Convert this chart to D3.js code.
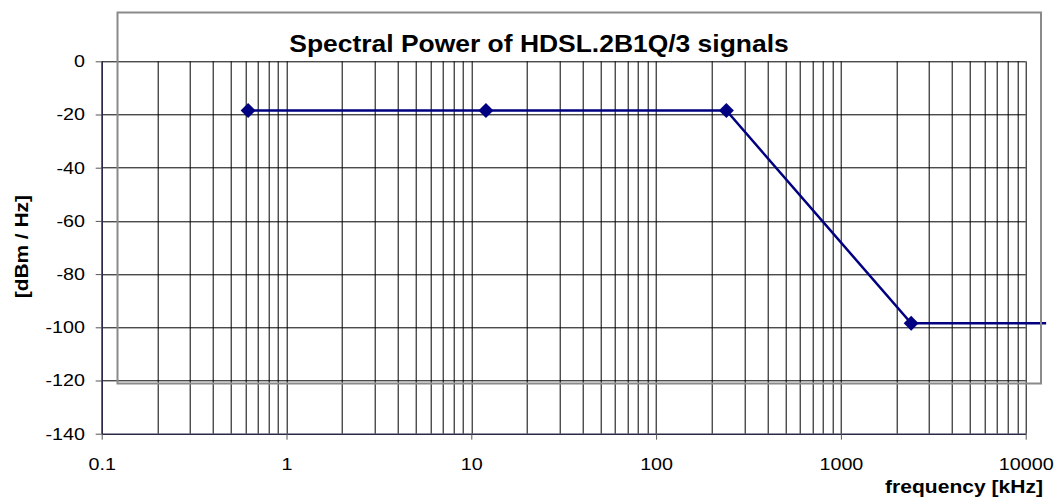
<!DOCTYPE html>
<html>
<head>
<meta charset="utf-8">
<script src="https://cdn.jsdelivr.net/npm/d3@7"></script>
<style>
  body { margin: 0; background: #fff; }
  text { font-family: "Liberation Sans", Arial, sans-serif; fill: #000; }
</style>
</head>
<body>
<div id="chart"></div>
<script>
// data
const freqKHz = [0.62, 12, 240, 2400, 12900];
const powerDbm = [-18.5, -18.5, -18.5, -98.5, -98.5];
const xTickValues = [0.1, 1, 10, 100, 1000, 10000];
const yTickValues = [-140, -120, -100, -80, -60, -40, -20, 0];

const svgWidth = 1058;
const svgHeight = 498;
const margin = { top: 61.3, right: 32.3, bottom: 64.3, left: 101.7 };
const width = svgWidth - margin.left - margin.right;
const height = svgHeight - margin.top - margin.bottom;
const stretch = 1.16; // text in the picture is drawn a bit wide

const points = freqKHz.map((f, i) => ({ f: f, p: powerDbm[i] }));

const svg = d3.select("#chart").append("svg")
  .attr("width", svgWidth)
  .attr("height", svgHeight);

const g = svg.append("g")
  .attr("transform", `translate(${margin.left}, ${margin.top})`);

const xScale = d3.scaleLog().domain([0.1, 10000]).range([0, width]);
const yScale = d3.scaleLinear().domain([-140, 0]).range([height, 0]);

// vertical grid: every minor step of each decade
const minorTicks = [];
for (let dec = 0.1; dec < 10000; dec *= 10) {
  for (let k = 1; k <= 9; k++) minorTicks.push(+(dec * k).toPrecision(3));
}
minorTicks.push(10000);

g.append("g")
  .selectAll("line")
  .data(minorTicks)
  .enter()
  .append("line")
  .attr("x1", (d) => Math.round(xScale(d)) + 0.5)
  .attr("x2", (d) => Math.round(xScale(d)) + 0.5)
  .attr("y1", 0)
  .attr("y2", height)
  .attr("stroke", "#000")
  .attr("stroke-width", 1);

// horizontal grid
g.append("g")
  .selectAll("line")
  .data(yTickValues.filter((d) => d > -140))
  .enter()
  .append("line")
  .attr("x1", 0)
  .attr("x2", width)
  .attr("y1", (d) => Math.round(yScale(d)) + 0.5)
  .attr("y2", (d) => Math.round(yScale(d)) + 0.5)
  .attr("stroke", "#000")
  .attr("stroke-width", 1);

// grey frame sitting over the plot
svg.append("rect")
  .attr("x", 117.5)
  .attr("y", 12.5)
  .attr("width", 923.5)
  .attr("height", 371)
  .attr("fill", "none")
  .attr("stroke", "#8a8a8a")
  .attr("stroke-width", 2);

// axes
const xAxis = g.append("g")
  .attr("transform", `translate(0, ${height})`)
  .call(d3.axisBottom(xScale).tickValues(xTickValues).tickFormat((d) => String(d)).tickSize(6).tickSizeOuter(0));
xAxis.select(".domain").attr("stroke", "#2a2a48").attr("stroke-width", 1.5);
xAxis.selectAll(".tick line").attr("stroke", "#555");
xAxis.selectAll("text")
  .attr("y", 36.8)
  .attr("dy", 0)
  .attr("font-size", "17px")
  .attr("font-family", "Liberation Sans, Arial, sans-serif")
  .attr("transform", `scale(${stretch},1)`);

const yAxis = g.append("g")
  .call(d3.axisLeft(yScale).tickValues(yTickValues).tickFormat((d) => String(d)).tickSize(6).tickSizeOuter(0));
yAxis.select(".domain").attr("stroke", "#2a2a48").attr("stroke-width", 1.5);
yAxis.selectAll(".tick line").attr("stroke", "#555");
yAxis.selectAll("text")
  .attr("x", -16.7 / stretch)
  .attr("font-size", "17px")
  .attr("font-family", "Liberation Sans, Arial, sans-serif")
  .attr("transform", `scale(${stretch},1)`);

// series line
const line = d3.line()
  .x((d) => xScale(d.f))
  .y((d) => yScale(d.p));

g.append("path")
  .attr("fill", "none")
  .attr("stroke", "#000080")
  .attr("stroke-width", 2.5)
  .attr("d", line(points));

// diamond markers
g.selectAll(".marker")
  .data(points.filter((d) => d.f <= 10000))
  .enter()
  .append("path")
  .attr("class", "marker")
  .attr("d", d3.symbol(d3.symbolSquare, 112))
  .attr("fill", "#000080")
  .attr("transform", (d) => `translate(${xScale(d.f)}, ${yScale(d.p)}) rotate(45)`);

// titles
svg.append("text")
  .attr("transform", "translate(539, 51.5) scale(1.15,1)")
  .attr("text-anchor", "middle")
  .attr("font-size", "23px")
  .attr("font-weight", "bold")
  .text("Spectral Power of HDSL.2B1Q/3 signals");

svg.append("text")
  .attr("transform", "translate(1043, 493) scale(1.17,1)")
  .attr("text-anchor", "end")
  .attr("font-size", "18px")
  .attr("font-weight", "bold")
  .text("frequency [kHz]");

svg.append("text")
  .attr("transform", "translate(28, 246.7) rotate(-90) scale(1.16,1)")
  .attr("text-anchor", "middle")
  .attr("font-size", "18px")
  .attr("font-weight", "bold")
  .text("[dBm / Hz]");
</script>
</body>
</html>
